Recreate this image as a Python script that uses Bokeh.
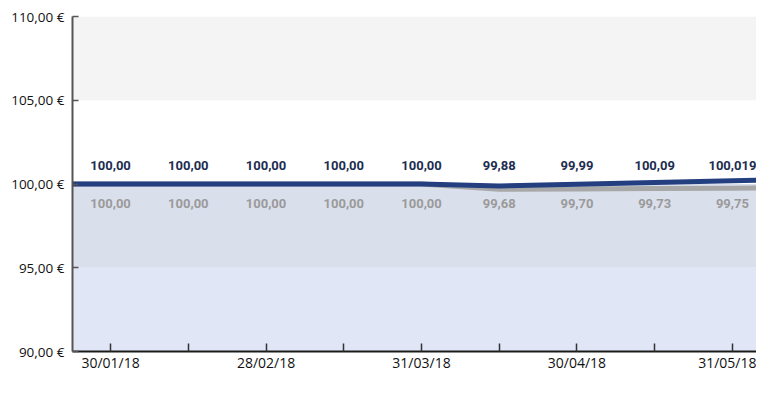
import numpy as np
from bokeh.plotting import figure
from bokeh.models import Range1d, FixedTicker, BoxAnnotation, Legend, LegendItem
from bokeh.core.properties import value
from bokeh.embed import file_html
from bokeh.resources import INLINE

# ---- data ----
tick_labels = ["30/01/18", "", "28/02/18", "", "31/03/18", "", "30/04/18", "", "31/05/18"]
vl_ab = [100.00, 100.00, 100.00, 100.00, 100.00, 99.68, 99.70, 99.73, 99.75]
vl_i = [100.00, 100.00, 100.00, 100.00, 100.00, 99.88, 99.99, 100.09, 100.19]
labels_ab = ["100,00", "100,00", "100,00", "100,00", "100,00", "99,68", "99,70", "99,73", "99,75"]
labels_i = ["100,00", "100,00", "100,00", "100,00", "100,00", "99,88", "99,99", "100,09", "100,019"]
y_ticks = [90, 95, 100, 105, 110]
y_tick_labels = ["90,00 €", "95,00 €", "100,00 €", "105,00 €", "110,00 €"]
label_level = 100
series_names = ["VL parts A et B", "VL parts I"]

BLUE = "#243f80"
GRAY = "#a8a8a8"

n = len(vl_i)
idx = list(range(n))
x_start, x_end = -0.49, 8.31

p = figure(frame_width=684, frame_height=335, output_backend="svg", toolbar_location=None,
           x_range=Range1d(x_start, x_end), y_range=Range1d(90, 110),
           min_border_left=72, min_border_right=0, min_border_top=16, min_border_bottom=0)
p.outline_line_color = None
p.xgrid.visible = False
p.ygrid.visible = False
p.background_fill_color = "white"

# bands
p.add_layout(BoxAnnotation(bottom=105, top=110, fill_color="#f4f4f4", fill_alpha=1, line_alpha=0, level="underlay"))
p.add_layout(BoxAnnotation(bottom=95, top=100, fill_color="#dadfec", fill_alpha=1, line_alpha=0, level="underlay"))
p.add_layout(BoxAnnotation(bottom=90, top=95, fill_color="#e1e6f6", fill_alpha=1, line_alpha=0, level="underlay"))


def extended(vals):
    slope = vals[-1] - vals[-2]
    xs = [x_start] + idx + [x_end]
    ys = [vals[0]] + list(vals) + [vals[-1] + slope * (x_end - idx[-1])]
    return xs, ys


xa, ya = extended(vl_ab)
xb, yb = extended(vl_i)
r_ab = p.line(xa, ya, line_color=GRAY, line_width=5)
r_i = p.line(xb, yb, line_color=BLUE, line_width=5)

p.text(x=idx, y=[label_level] * n, text=labels_i, y_offset=-19,
       text_align="center", text_baseline="middle",
       text_font=value("Roboto"), text_font_style="bold",
       text_font_size="13px", text_color="#1c2d50")
p.text(x=idx, y=[label_level] * n, text=labels_ab, y_offset=19,
       text_align="center", text_baseline="middle",
       text_font=value("Roboto"), text_font_style="bold",
       text_font_size="13px", text_color="#9a9a9a")

# axes
p.xaxis.ticker = FixedTicker(ticks=idx)
p.xaxis.major_label_overrides = {i: t for i, t in enumerate(tick_labels)}
p.xaxis.major_tick_in = 8
p.xaxis.major_tick_out = 0
p.xaxis.minor_tick_line_color = None
p.xaxis.axis_line_color = "#1a1a1a"
p.xaxis.axis_line_width = 2
p.xaxis.major_tick_line_color = "#333333"
p.xaxis.major_tick_line_width = 1.5
p.xaxis.major_label_text_font = "Open Sans"
p.xaxis.major_label_text_font_size = "14px"
p.xaxis.major_label_text_color = "#111111"
p.xaxis.major_label_standoff = 1

p.yaxis.ticker = FixedTicker(ticks=y_ticks)
p.yaxis.major_label_overrides = {t: l for t, l in zip(y_ticks, y_tick_labels)}
p.yaxis.major_tick_in = 6
p.yaxis.major_tick_out = 0
p.yaxis.minor_tick_line_color = None
p.yaxis.axis_line_color = "#555555"
p.yaxis.axis_line_width = 2
p.yaxis.major_tick_line_color = "#555555"
p.yaxis.major_tick_line_width = 1.5
p.yaxis.major_label_text_font = "Open Sans"
p.yaxis.major_label_text_font_size = "13.5px"
p.yaxis.major_label_text_color = "#111111"
p.yaxis.major_label_standoff = 8

legend = Legend(items=[LegendItem(label=series_names[0], renderers=[r_ab]),
                       LegendItem(label=series_names[1], renderers=[r_i])],
                location=(133, 0), orientation="horizontal",
                glyph_width=60, glyph_height=14, label_standoff=8, spacing=82,
                padding=0, margin=0, background_fill_alpha=0, border_line_alpha=0,
                label_text_font="Open Sans", label_text_font_size="14px",
                label_text_color="#111111", label_height=14)
p.add_layout(legend, "below")

open("out.html", "w").write(file_html(p, INLINE))
